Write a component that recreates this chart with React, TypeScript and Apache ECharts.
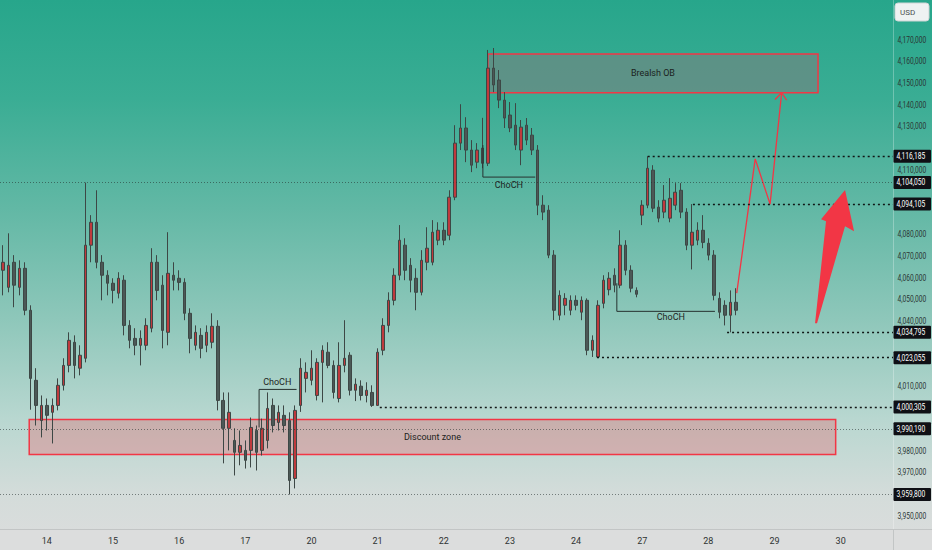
import React, { useEffect, useRef } from "react";
import * as echarts from "echarts";

const FONT = "Roboto, 'Liberation Sans', sans-serif";

// x axis: trading days, 12 two-hour slots per day, first day starts mid-session
const dayLabels = ["13", "14", "15", "16", "17", "20", "21", "22", "23", "24", "27", "28", "29", "30"];
const SLOTS_PER_DAY = 12;
const FIRST_SLOT = 4;
const TOTAL_SLOTS = 162;

// price axis
const Y_MIN = 3940000;
const Y_MAX = 4180000;
const Y_STEP = 10000;
const priceTicks = [
  4170000, 4160000, 4150000, 4140000, 4130000, 4120000, 4110000, 4100000, 4090000, 4080000, 4070000, 4060000,
  4050000, 4040000, 4030000, 4020000, 4010000, 4000000, 3990000, 3980000, 3970000, 3960000, 3950000,
];

const opens = [
  4063500, 4055600, 4067200, 4055600, 4064400, 4045000, 4012600, 3994000,
  4001000, 3997800, 4001000, 4010300, 4019500, 4030200, 4018200, 4022800, 4075100, 4085700, 4067200, 4061200,
  4057500, 4052900, 4058900, 4038000, 4032000, 4028800, 4028800, 4036700, 4067200, 4056600, 4034800, 4061200,
  4059800, 4057900, 4043600, 4028800, 4033400, 4028800, 4030200, 4037600, 4003300, 3990400, 3984800, 3979300,
  3980200, 3980200, 3989400, 3980200, 3984800, 4001000, 3993100, 3996400, 3994000, 3967200, 4001000, 4013500,
  4012600, 4005600, 4020900, 4025600, 4019500, 4004200, 4019500, 4024200, 4008000, 4009900, 4005600, 4007000,
  4001000, 4026500, 4038000, 4049600, 4061200, 4075100, 4065800, 4059800, 4053300, 4067200, 4067200, 4077400,
  4082000, 4079700, 4097300, 4122300, 4129300, 4119100, 4113500, 4120000, 4113000, 4157000, 4151500, 4142200,
  4135300, 4130600, 4119100, 4130600, 4126000, 4119100, 4093600, 4091300, 4070500, 4042700, 4047300, 4045000,
  4049600, 4044100, 4049600, 4026500, 4023400, 4048200, 4054500, 4061200, 4056600, 4075100, 4063500, 4054200,
  4089000, 4093600, 4109800, 4092700, 4090400, 4087600, 4093600, 4100500, 4090400, 4075100, 4077400, 4082000,
  4076000, 4070500, 4050500, 4047300, 4042700, 4048700,
];
const closes = [
  4067200, 4065800, 4056600, 4064400, 4045000, 4013500, 4001000, 4001000,
  3996400, 4001000, 4010300, 4019500, 4031100, 4019500, 4024200, 4075100, 4085700, 4067200, 4061200, 4057500,
  4054200, 4059800, 4038000, 4031100, 4028800, 4032000, 4038000, 4067200, 4054200, 4035700, 4062100, 4058900,
  4057900, 4043600, 4032000, 4034800, 4027400, 4034800, 4037600, 4003300, 3990400, 3997800, 3979300, 3982500,
  3975600, 3990800, 3979300, 3990400, 3999600, 3991700, 3997800, 3991700, 3966300, 3998700, 4018200, 4016300,
  4018200, 4020900, 4026500, 4019500, 4007000, 4019500, 4022800, 4008000, 4010800, 4005600, 4008000, 4001000,
  4025600, 4038000, 4049600, 4061200, 4077400, 4063500, 4058900, 4053300, 4068100, 4073700, 4081100, 4082000,
  4077400, 4097300, 4122300, 4129300, 4119100, 4112100, 4119100, 4113000, 4157000, 4149200, 4142200, 4133900,
  4129300, 4121400, 4129700, 4123700, 4119100, 4093600, 4090400, 4070500, 4045000, 4051900, 4050500, 4049600,
  4047300, 4049600, 4026500, 4031100, 4047300, 4058900, 4059800, 4056600, 4075100, 4063500, 4055200, 4052400,
  4093600, 4110700, 4092200, 4087600, 4095900, 4096800, 4099600, 4090400, 4075100, 4081100, 4082000, 4076400,
  4070500, 4051900, 4044100, 4042700, 4048700, 4045000,
];
const lows = [
  4051900, 4053300, 4046400, 4051900, 4042700, 3999000, 3991700, 3986200,
  3989400, 3983400, 3998700, 4007900, 4016300, 4013500, 4014900, 4020900, 4067200, 4064400, 4049600, 4051900,
  4048200, 4050500, 4033400, 4027400, 4024200, 4019500, 4026500, 4034800, 4049600, 4027400, 4028800, 4054200,
  4054200, 4040400, 4025100, 4026500, 4022800, 4025600, 4027400, 3998700, 3974200, 3980200, 3968600, 3973300,
  3971800, 3972300, 3970900, 3977800, 3981100, 3988500, 3989400, 3988500, 3959800, 3962600, 3998000, 4007000,
  4010300, 4003300, 4002400, 4018200, 4004200, 4002400, 4016300, 4005600, 4003000, 4003300, 4002400, 4000305,
  4000800, 4024200, 4034800, 4047300, 4058900, 4058900, 4053300, 4045000, 4051900, 4063500, 4065800, 4075100,
  4075100, 4077400, 4095900, 4119100, 4113500, 4108900, 4110700, 4110700, 4111700, 4145900, 4138500, 4129300,
  4127400, 4119100, 4112100, 4121400, 4116800, 4089000, 4086700, 4069100, 4040400, 4040400, 4042700, 4042700,
  4045000, 4040400, 4024200, 4023400, 4023055, 4045900, 4051900, 4053300, 4055200, 4061200, 4053300, 4051000,
  4084400, 4092200, 4090400, 4085700, 4087600, 4085700, 4091300, 4087600, 4072800, 4063900, 4075100, 4073700,
  4068100, 4049600, 4041300, 4038000, 4034795, 4042700,
];
const highs = [
  4075100, 4080600, 4070500, 4068100, 4067200, 4047300, 4018200, 4005600,
  4004200, 4004200, 4013500, 4022800, 4034800, 4033400, 4028800, 4104050, 4089000, 4100500, 4070500, 4063500,
  4059800, 4062600, 4061200, 4040400, 4036700, 4035700, 4041300, 4073700, 4070500, 4061200, 4081100, 4067200,
  4063500, 4059800, 4045900, 4038000, 4036700, 4038000, 4043600, 4040400, 4007000, 4007000, 3990400, 3989400,
  3984800, 3995400, 3991700, 3994900, 4007000, 4004200, 4001000, 4001000, 3997800, 4001000, 4022800, 4020900,
  4026500, 4022800, 4028800, 4030200, 4021800, 4030200, 4040400, 4025600, 4013500, 4012600, 4011700, 4010300,
  4027400, 4041300, 4053300, 4064400, 4084400, 4078300, 4069100, 4064400, 4072800, 4083400, 4086700, 4085700,
  4085700, 4100500, 4130600, 4140300, 4134300, 4123700, 4122300, 4134000, 4165400, 4166300, 4156100, 4145900,
  4141300, 4140800, 4133000, 4133900, 4129300, 4121400, 4098200, 4093600, 4072800, 4054200, 4052900, 4051900,
  4051900, 4051400, 4050500, 4033400, 4049600, 4061200, 4062600, 4064400, 4082000, 4077400, 4065800, 4055600,
  4095900, 4116185, 4112100, 4095900, 4102900, 4106100, 4103800, 4103800, 4092200, 4094105, 4085700, 4089000,
  4078300, 4072800, 4053300, 4049600, 4054200, 4055200,
];

// drawings, in (slot position, price)
const obZone = { name: "Brealsh OB", x0: 88.0, x1: 147.9, top: 4163500, bottom: 4145600 };
const discountZone = { name: "Discount zone", x0: 4.8, x1: 151.1, top: 3994500, bottom: 3978300 };

const darkLevels: [number, number][] = [
  [4116185, 117.0],
  [4094105, 125.2],
  [4034795, 131.4],
  [4023055, 107.8],
  [4000305, 68.4],
];
const lightLevels = [4104050, 3990190, 3959800];

const choch1 = [[46.5, 3990800], [46.5, 4008400], [53.3, 4008400]];
const choch2 = [[87.1, 4121400], [87.1, 4106600], [96.6, 4106600]];
const choch3 = [[111.4, 4057500], [111.4, 4044500], [129.2, 4044500]];
const chochLabels = [[49.8, 4011900], [91.8, 4103100], [121.2, 4041800]];
const projection = [[133.15, 4052900], [136.5, 4115000], [139.2, 4094105], [141.3, 4145600]];
const projectionHead = [[140.1, 4142500], [141.3, 4145600], [142.2, 4142200]];
const bigArrow = [
  [147.36, 4038980], [149.35, 4086200], [148.45, 4087100], [152.8, 4100600],
  [154.44, 4081600], [152.8, 4083900], [147.72, 4038980],
];

export default function App() {
  const ref = useRef<HTMLDivElement>(null);

  useEffect(() => {
    const el = ref.current;
    if (!el) return;
    const chart = echarts.init(el, null, { renderer: "svg" });

    const categories = Array.from({ length: TOTAL_SLOTS }, (_, i) => {
      const k = i + FIRST_SLOT;
      return dayLabels[Math.floor(k / SLOTS_PER_DAY)] + "|" + (k % SLOTS_PER_DAY);
    });
    const candleData = opens.map((o, i) => [o, closes[i], lows[i], highs[i]]);
    const fmt = (v: number) => v.toLocaleString("en-US");
    const tagPrices = [...lightLevels, ...darkLevels.map((d) => d[0])];

    const lineSeries = (data: number[][], color: string, width: number) => ({
      type: "line",
      xAxisIndex: 1,
      yAxisIndex: 0,
      data,
      symbol: "none",
      silent: true,
      clip: false,
      lineStyle: { color, width, type: "solid" },
      z: 3,
    });

    const levelLines = [
      ...lightLevels.map((p) => [
        { coord: [-0.5, p], lineStyle: { color: "rgba(35,45,45,0.55)", width: 1, type: [1, 2] }, label: { show: false } },
        { coord: [161.5, p] },
      ]),
      ...darkLevels.map(([p, x0]) => [
        { coord: [x0, p], lineStyle: { color: "#101615", width: 1.3, type: [2, 3] }, label: { show: false } },
        { coord: [161.5, p] },
      ]),
    ];

    const zone = (z: typeof obZone, fill: string) => [
      {
        name: z.name,
        coord: [z.x0, z.top],
        itemStyle: { color: fill, borderColor: "#f23645", borderWidth: 1.5 },
        label: { show: true, position: "inside", color: "#1b2220", fontSize: 9, fontFamily: FONT },
      },
      { coord: [z.x1, z.bottom] },
    ];

    const option: any = {
      animation: false,
      backgroundColor: "transparent",
      grid: { left: 0, right: 39, top: 18.38, bottom: 12.7, containLabel: false, outerBoundsMode: "none" },
      xAxis: [
        {
          type: "category",
          data: categories,
          boundaryGap: true,
          axisLine: { show: false },
          axisTick: { show: false },
          splitLine: { show: false },
          z: 5,
          axisLabel: {
            interval: (_i: number, value: string) => value.endsWith("|0"),
            formatter: (value: string) => value.split("|")[0],
            fontSize: 9,
            color: "#2f3332",
            margin: -1,
            fontFamily: FONT,
          },
        },
        { type: "value", min: -0.5, max: 161.5, show: false },
      ],
      yAxis: [
        {
          type: "value",
          position: "right",
          min: Y_MIN,
          max: Y_MAX,
          interval: Y_STEP,
          axisLine: { show: false },
          axisTick: { show: false },
          splitLine: { show: false },
          axisLabel: { show: false },
        },
      ],
      series: [
        {
          type: "candlestick",
          name: "price",
          xAxisIndex: 0,
          yAxisIndex: 0,
          data: candleData,
          barWidth: "55%",
          z: 2,
          itemStyle: {
            color: "#bf3a3d",
            color0: "#4b5856",
            borderColor: "#3d4745",
            borderColor0: "#3d4745",
            borderWidth: 1,
          },
        },
        {
          ...lineSeries(choch1, "#263230", 1),
          markArea: {
            silent: true,
            data: [zone(obZone, "rgba(125,125,125,0.55)"), zone(discountZone, "rgba(242,54,69,0.25)")],
          },
          markLine: {
            silent: true,
            symbol: ["none", "none"],
            label: { show: false },
            data: levelLines,
          },
        },
        lineSeries(choch2, "#263230", 1),
        lineSeries(choch3, "#263230", 1),
        lineSeries(projection, "#f23645", 1.3),
        lineSeries(projectionHead, "#f23645", 1.3),
      ],
    };

    chart.setOption(option);

    const px = (pt: number[]) => chart.convertToPixel({ xAxisIndex: 1, yAxisIndex: 0 } as any, pt) as number[];
    const py = (p: number) => px([0, p])[1];
    const NARROW = 0.74;
    const AXIS_X = 893.5;

    const tickTexts = priceTicks
      .filter((v) => !tagPrices.some((p) => Math.abs(p - v) < 5000))
      .map((v) => ({
        type: "text",
        silent: true,
        z: 3,
        x: AXIS_X + 4,
        y: py(v),
        scaleX: NARROW,
        style: { text: fmt(v), fill: "#2b3634", fontSize: 9, fontFamily: FONT, align: "left", verticalAlign: "middle" },
      }));

    const tags: any[] = [];
    tagPrices.forEach((p) => {
      const y = py(p);
      tags.push({
        type: "rect",
        silent: true,
        z: 8,
        shape: { x: AXIS_X, y: y - 6.5, width: 37.5, height: 13, r: 1 },
        style: { fill: "#0f1015" },
      });
      tags.push({
        type: "text",
        silent: true,
        z: 9,
        x: AXIS_X + 3,
        y,
        scaleX: NARROW,
        style: { text: fmt(p), fill: "#ffffff", fontSize: 9, fontFamily: FONT, align: "left", verticalAlign: "middle" },
      });
    });

    const graphics: any[] = [
      { type: "rect", silent: true, z: 1, shape: { x: 0, y: 529, width: 932, height: 21 }, style: { fill: "#dcdddd" } },
      { type: "line", silent: true, z: 1, shape: { x1: 0, y1: 529.5, x2: 932, y2: 529.5 }, style: { stroke: "#c2c5c5", lineWidth: 1 } },
      { type: "line", silent: true, z: 1, shape: { x1: AXIS_X, y1: 0, x2: AXIS_X, y2: 529 }, style: { stroke: "rgba(255,255,255,0.28)", lineWidth: 1 } },
      { type: "line", silent: true, z: 1, shape: { x1: AXIS_X, y1: 529, x2: AXIS_X, y2: 550 }, style: { stroke: "#c2c5c5", lineWidth: 1 } },
      { type: "rect", silent: true, z: 6, shape: { x: 895, y: 3, width: 34, height: 18, r: 3 }, style: { fill: "#eef2f2", stroke: "#cfd6d6", lineWidth: 1 } },
      { type: "text", silent: true, z: 7, x: 900, y: 12, style: { text: "USD", fill: "#4a4f4f", fontSize: 8, fontFamily: FONT, align: "left", verticalAlign: "middle" } },
      ...tickTexts,
      ...tags,
      ...chochLabels.map((pt) => {
        const [x, y] = px(pt);
        return {
          type: "text",
          silent: true,
          z: 6,
          x,
          y,
          style: { text: "ChoCH", fill: "#1d2523", fontSize: 9, fontFamily: FONT, align: "center", verticalAlign: "middle" },
        };
      }),
      { type: "polygon", silent: true, z: 6, shape: { points: bigArrow.map(px) }, style: { fill: "#f23645" } },
    ];

    chart.setOption({ graphic: graphics });

    return () => {
      chart.dispose();
    };
  }, []);

  return (
    <div
      ref={ref}
      style={{
        position: "absolute",
        left: 0,
        top: 0,
        width: 932,
        height: 550,
        background:
          "linear-gradient(180deg, #27a68b 0%, #3aad94 18%, #62b8a5 38%, #8ec7ba 58%, #b8d7d0 76%, #d4dcda 90%, #dcdddd 100%)",
      }}
    />
  );
}
